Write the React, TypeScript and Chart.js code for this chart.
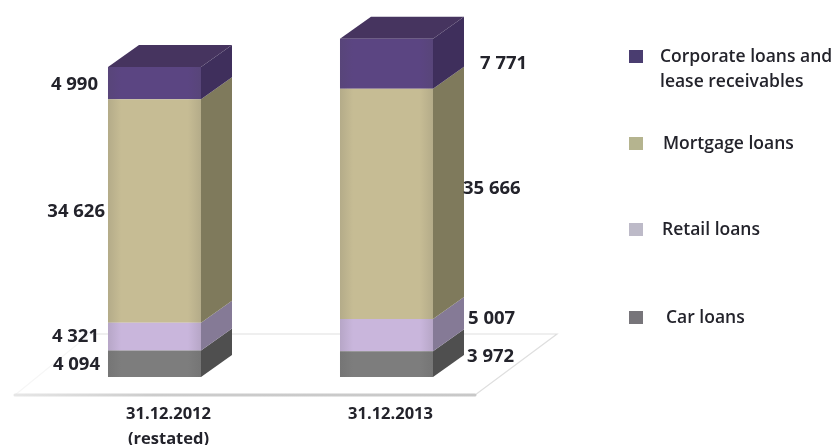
import { useEffect, useRef } from "react";
import { Chart, registerables } from "chart.js";

Chart.register(...registerables);

const categories = [["31.12.2012", "(restated)"], ["31.12.2013"]];
const carLoans = [4094, 3972];
const retailLoans = [4321, 5007];
const mortgageLoans = [34626, 35666];
const corporateLoans = [4990, 7771];

const depthX = 31;
const depthY = -22;
const categoryLabelShift = [14, 4];
const labelFont = "bold 18.5px 'Open Sans'";
const categoryFont = "bold 16.5px 'Open Sans'";
const legendFont = "600 17.5px 'Open Sans'";
const textColor = "#23232b";
const lineStep = 25;
// Open Sans sits high on a middle baseline, so text is nudged down
const textNudge = 1.5;

const fmt = (v: number) => {
  const s = String(v);
  return s.slice(0, -3) + " " + s.slice(-3);
};

// Side and top faces that give each stacked segment its box shape
const boxFaces = {
  id: "boxFaces",
  beforeDatasetsDraw(chart: any) {
    const { ctx } = chart;
    const poly = (pts: number[][], fill: string) => {
      ctx.beginPath();
      pts.forEach(([x, y], i) => (i ? ctx.lineTo(x, y) : ctx.moveTo(x, y)));
      ctx.closePath();
      ctx.fillStyle = fill;
      ctx.fill();
    };
    chart.data.datasets.forEach((ds: any, di: number) => {
      chart.getDatasetMeta(di).data.forEach((bar: any) => {
        const right = bar.x + bar.width / 2;
        const left = bar.x - bar.width / 2;
        const top = bar.y;
        const base = bar.base;
        poly(
          [[right, top], [right + depthX, top + depthY], [right + depthX, base + depthY], [right, base]],
          ds.sideColor,
        );
        if (ds.topColor) {
          poly(
            [[left, top], [left + depthX, top + depthY], [right + depthX, top + depthY], [right, top]],
            ds.topColor,
          );
        }
      });
    });
  },
};

// Floor plane under the columns
const floor = {
  id: "floor",
  beforeDraw(chart: any) {
    const { ctx } = chart;
    const y = chart.scales.y.getPixelForValue(0);
    const frontY = y + 18;
    const backY = y - 43;
    ctx.save();
    ctx.lineCap = "round";
    ctx.strokeStyle = "#dfdfdf";
    ctx.lineWidth = 1.2;
    ctx.beginPath();
    ctx.moveTo(90, backY);
    ctx.lineTo(557, backY);
    ctx.lineTo(475, frontY);
    ctx.stroke();
    ctx.beginPath();
    ctx.moveTo(15, frontY);
    ctx.lineTo(90, backY);
    ctx.strokeStyle = "#f6f6f6";
    ctx.stroke();
    const front = ctx.createLinearGradient(15, 0, 475, 0);
    front.addColorStop(0, "#e6e6e6");
    front.addColorStop(0.3, "#cccccc");
    front.addColorStop(1, "#c8c8c8");
    ctx.strokeStyle = front;
    ctx.lineWidth = 3;
    ctx.beginPath();
    ctx.moveTo(15, frontY);
    ctx.lineTo(475, frontY);
    ctx.stroke();
    ctx.restore();
  },
};

// Value labels, category labels and the legend column on the right
const annotations = {
  id: "annotations",
  afterDatasetsDraw(chart: any) {
    const { ctx } = chart;
    ctx.save();
    // soft shading toward the left and right edges of each front face
    chart.data.datasets.forEach((_: any, di: number) => {
      chart.getDatasetMeta(di).data.forEach((bar: any) => {
        const left = bar.x - bar.width / 2;
        const g = ctx.createLinearGradient(left, 0, left + bar.width, 0);
        g.addColorStop(0, "rgba(70,70,70,0.14)");
        g.addColorStop(0.14, "rgba(70,70,70,0)");
        g.addColorStop(0.86, "rgba(70,70,70,0)");
        g.addColorStop(1, "rgba(70,70,70,0.14)");
        ctx.fillStyle = g;
        ctx.fillRect(left, bar.y, bar.width, bar.base - bar.y);
      });
    });
    ctx.fillStyle = textColor;
    ctx.font = labelFont;
    ctx.textBaseline = "middle";
    chart.data.datasets.forEach((ds: any, di: number) => {
      const bars = chart.getDatasetMeta(di).data;
      ctx.textAlign = "right";
      ctx.fillText(fmt(ds.data[0]), bars[0].x - bars[0].width / 2 - ds.labelGap[0], ds.labelY[0] + textNudge);
      ctx.textAlign = "left";
      ctx.fillText(fmt(ds.data[1]), bars[1].x + bars[1].width / 2 + ds.labelGap[1], ds.labelY[1] + textNudge);
    });
    ctx.font = categoryFont;
    ctx.textAlign = "center";
    const xScale = chart.scales.x;
    categories.forEach((lines, i) => {
      const x = xScale.getPixelForTick(i) + categoryLabelShift[i];
      lines.forEach((line, j) => ctx.fillText(line, x, 413 + textNudge + j * lineStep));
    });
    ctx.font = legendFont;
    ctx.textAlign = "left";
    chart.data.datasets.forEach((ds: any) => {
      ctx.fillStyle = ds.swatch;
      ctx.fillRect(629, ds.legendY - 6, 14, 13);
      ctx.fillStyle = textColor;
      ds.legendLines.forEach((line: string, i: number) => {
        ctx.fillText(line, ds.legendX, ds.legendY + textNudge + i * lineStep);
      });
    });
    ctx.restore();
  },
};

export default function App() {
  const ref = useRef<HTMLCanvasElement>(null);
  useEffect(() => {
    const chart = new Chart(ref.current!, {
      type: "bar",
      data: {
        labels: categories as any,
        datasets: [
          {
            label: "Car loans",
            data: carLoans,
            backgroundColor: "#7d7d7d",
            sideColor: "#4f4f4f",
            swatch: "#77757a",
            labelGap: [8, 34],
            labelY: [363, 355],
            legendX: 666,
            legendY: 317,
            legendLines: ["Car loans"],
          },
          {
            label: "Retail loans",
            data: retailLoans,
            backgroundColor: "#c9b6dc",
            sideColor: "#857a96",
            swatch: "#bdbac8",
            labelGap: [9, 35],
            labelY: [335, 317],
            legendX: 662,
            legendY: 229,
            legendLines: ["Retail loans"],
          },
          {
            label: "Mortgage loans",
            data: mortgageLoans,
            backgroundColor: "#c6bc94",
            sideColor: "#7f7a5c",
            swatch: "#b5b48f",
            labelGap: [3, 30],
            labelY: [210, 187],
            legendX: 663,
            legendY: 143,
            legendLines: ["Mortgage loans"],
          },
          {
            label: "Corporate loans and lease receivables",
            data: corporateLoans,
            backgroundColor: "#5b4582",
            sideColor: "#3f2f5c",
            topColor: "#46345f",
            swatch: "#4a3d70",
            labelGap: [10, 47],
            labelY: [83, 62],
            legendX: 660,
            legendY: 56,
            legendLines: ["Corporate loans and", "lease receivables"],
          },
        ] as any,
      },
      options: {
        animation: false,
        responsive: false,
        layout: { padding: { left: 38.5, right: 332.5, top: 22, bottom: 68 } },
        plugins: { legend: { display: false }, tooltip: { enabled: false } },
        datasets: { bar: { barPercentage: 0.4009, categoryPercentage: 1 } },
        scales: {
          x: {
            stacked: true,
            grid: { display: false, drawTicks: false },
            border: { display: false },
            ticks: { display: false },
          },
          y: { stacked: true, display: false, min: 0, max: 55000 },
        },
      },
      plugins: [floor, boxFaces, annotations],
    });
    return () => chart.destroy();
  }, []);
  return (
    <div style={{ position: "absolute", left: 0, top: 0, width: 835, height: 445, background: "#fff" }}>
      <canvas ref={ref} width={835} height={445} style={{ display: "block" }} />
    </div>
  );
}
